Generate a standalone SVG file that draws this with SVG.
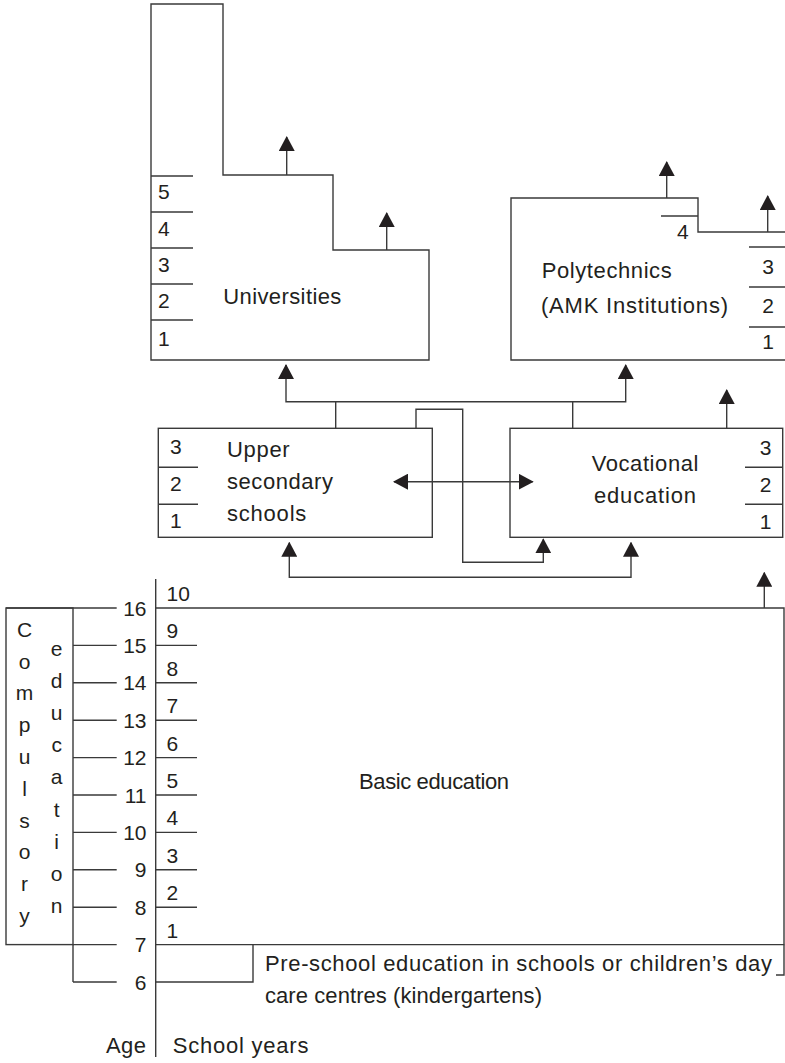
<svg xmlns="http://www.w3.org/2000/svg" width="785" height="1063" viewBox="0 0 785 1063">
<style>
.ln{stroke:#3a3a3a;stroke-width:1.4;fill:none}
.t{font-family:"Liberation Sans",Arial,Helvetica,sans-serif;font-size:22px;fill:#231f20}
.d{font-family:"Liberation Sans",Arial,Helvetica,sans-serif;font-size:21px;fill:#231f20}
.e{text-anchor:end}
.m{text-anchor:middle}
</style>
<defs>
<marker id="ah" viewBox="0 0 15 16" refX="14" refY="8" markerWidth="15" markerHeight="16" markerUnits="userSpaceOnUse" orient="auto-start-reverse">
<path d="M0,0 L15,8 L0,16 Z" fill="#231f20"/>
</marker>
</defs>
<rect width="785" height="1063" fill="#fff"/>

<g id="universities">
<path class="ln" d="M151,4 H223 V175 H333 V250 H429 V360 H151 Z"/>
<path class="ln" d="M151,176 H193 M151,212 H193 M151,248 H193 M151,284 H193 M151,320 H193"/>
<text class="d" x="158" y="199">5</text>
<text class="d" x="158" y="236">4</text>
<text class="d" x="158" y="272">3</text>
<text class="d" x="158" y="308">2</text>
<text class="d" x="158" y="346">1</text>
<text class="t" x="223.3" y="304" textLength="118" lengthAdjust="spacing">Universities</text>
</g>

<g id="polytechnics">
<path class="ln" d="M785,360 H511 V198 H698 V232 H785"/>
<path class="ln" d="M661,216 H698 M749,247 H785 M749,287 H785 M749,327 H785"/>
<text class="d" x="677" y="239">4</text>
<text class="d e" x="774" y="274">3</text>
<text class="d e" x="774" y="313">2</text>
<text class="d e" x="774" y="349">1</text>
<text class="t" x="541.7" y="278" textLength="130" lengthAdjust="spacing">Polytechnics</text>
<text class="t" x="541" y="313" textLength="187" lengthAdjust="spacing">(AMK Institutions)</text>
</g>

<g id="upper-secondary">
<rect class="ln" x="158.3" y="428.3" width="274" height="109"/>
<path class="ln" d="M158.3,467.3 H198 M158.3,504.3 H198"/>
<text class="d" x="170" y="454">3</text>
<text class="d" x="170" y="491">2</text>
<text class="d" x="170" y="528">1</text>
<text class="t" x="227" y="457" textLength="62.7" lengthAdjust="spacing">Upper</text>
<text class="t" x="227" y="489" textLength="106" lengthAdjust="spacing">secondary</text>
<text class="t" x="227" y="521" textLength="79.3" lengthAdjust="spacing">schools</text>
</g>

<g id="vocational">
<rect class="ln" x="510" y="428.3" width="272.7" height="109"/>
<path class="ln" d="M745,467.3 H782.7 M745,504.3 H782.7"/>
<text class="d e" x="771.5" y="455">3</text>
<text class="d e" x="771.5" y="492">2</text>
<text class="d e" x="771.5" y="529">1</text>
<text class="t" x="591.7" y="471" textLength="106.7" lengthAdjust="spacing">Vocational</text>
<text class="t" x="594" y="502.7" textLength="102" lengthAdjust="spacing">education</text>
</g>

<g id="basic-education">
<path class="ln" d="M155.7,608 H784 V944.6 H155.7"/>
<path class="ln" d="M155.7,645.4 H197 M155.7,682.8 H197 M155.7,720.2 H197 M155.7,757.6 H197 M155.7,795 H197 M155.7,832.4 H197 M155.7,869.8 H197 M155.7,907.2 H197"/>
<text class="d" x="166.5" y="601">10</text>
<text class="d" x="166.5" y="638.4">9</text>
<text class="d" x="166.5" y="675.8">8</text>
<text class="d" x="166.5" y="713.2">7</text>
<text class="d" x="166.5" y="750.6">6</text>
<text class="d" x="166.5" y="788">5</text>
<text class="d" x="166.5" y="825.4">4</text>
<text class="d" x="166.5" y="862.8">3</text>
<text class="d" x="166.5" y="900.2">2</text>
<text class="d" x="166.5" y="937.6">1</text>
<text class="t" x="359" y="789" textLength="150" lengthAdjust="spacing">Basic education</text>
</g>

<g id="pre-school">
<path class="ln" d="M155.7,982 H253 V944.6"/>
<path class="ln" d="M784,944.6 V975 H776"/>
<text class="t" x="265" y="970.7" textLength="507" lengthAdjust="spacing">Pre-school education in schools or children’s day</text>
<text class="t" x="265" y="1002.7" textLength="277" lengthAdjust="spacing">care centres (kindergartens)</text>
</g>

<g id="compulsory-education">
<rect class="ln" x="6" y="608" width="67" height="336.6"/>
<text class="d m" x="24.5" y="636.7">C</text>
<text class="d m" x="24.5" y="668.5">o</text>
<text class="d m" x="24.5" y="700.3">m</text>
<text class="d m" x="24.5" y="732.1">p</text>
<text class="d m" x="24.5" y="763.9">u</text>
<text class="d m" x="24.5" y="795.7">l</text>
<text class="d m" x="24.5" y="827.5">s</text>
<text class="d m" x="24.5" y="859.3">o</text>
<text class="d m" x="24.5" y="891.1">r</text>
<text class="d m" x="24.5" y="922.9">y</text>
<text class="d m" x="56.7" y="656">e</text>
<text class="d m" x="56.7" y="688.1">d</text>
<text class="d m" x="56.7" y="720.2">u</text>
<text class="d m" x="56.7" y="752.3">c</text>
<text class="d m" x="56.7" y="784.4">a</text>
<text class="d m" x="56.7" y="816.5">t</text>
<text class="d m" x="56.7" y="848.6">i</text>
<text class="d m" x="56.7" y="880.7">o</text>
<text class="d m" x="56.7" y="912.8">n</text>
</g>

<g id="age-axis">
<path class="ln" d="M155.7,579 V1057"/>
<path class="ln" d="M73,944.6 V982"/>
<path class="ln" d="M6,608 H116.7 M73,645.4 H116.7 M73,682.8 H116.7 M73,720.2 H116.7 M73,757.6 H116.7 M73,795 H116.7 M73,832.4 H116.7 M73,869.8 H116.7 M73,907.2 H116.7 M73,944.6 H116.7 M73,982 H116.7"/>
<text class="d e" x="146.5" y="615.5">16</text>
<text class="d e" x="146.5" y="652.9">15</text>
<text class="d e" x="146.5" y="690.3">14</text>
<text class="d e" x="146.5" y="727.7">13</text>
<text class="d e" x="146.5" y="765.1">12</text>
<text class="d e" x="146.5" y="802.5">11</text>
<text class="d e" x="146.5" y="839.9">10</text>
<text class="d e" x="146.5" y="877.3">9</text>
<text class="d e" x="146.5" y="914.7">8</text>
<text class="d e" x="146.5" y="952.1">7</text>
<text class="d e" x="146.5" y="989.5">6</text>
<text class="t" x="106" y="1053" textLength="40" lengthAdjust="spacing">Age</text>
<text class="t" x="172.7" y="1053" textLength="135.7" lengthAdjust="spacing">School years</text>
</g>

<g id="connectors">
<path class="ln" marker-end="url(#ah)" d="M286.7,175 V137"/>
<path class="ln" marker-end="url(#ah)" d="M386.7,250 V213"/>
<path class="ln" marker-end="url(#ah)" d="M666.7,198 V162"/>
<path class="ln" marker-end="url(#ah)" d="M767.7,232 V196"/>
<path class="ln" d="M335.7,428.3 V401.7 M572.7,428.3 V401.7"/>
<path class="ln" marker-start="url(#ah)" marker-end="url(#ah)" d="M286,365 V401.7 H625.7 V365"/>
<path class="ln" marker-end="url(#ah)" d="M416,428.3 V409.3 H462.7 V562.3 H543.3 V539.3"/>
<path class="ln" marker-start="url(#ah)" marker-end="url(#ah)" d="M394,481.7 H532.7"/>
<path class="ln" marker-start="url(#ah)" marker-end="url(#ah)" d="M289.3,542.7 V577.3 H631 V542.7"/>
<path class="ln" marker-end="url(#ah)" d="M726.7,428.3 V390"/>
<path class="ln" marker-end="url(#ah)" d="M764.3,608 V572.7"/>
</g>
</svg>
